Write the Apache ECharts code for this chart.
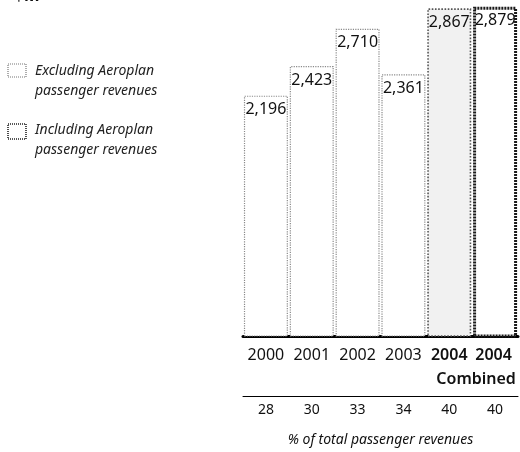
<!DOCTYPE html>
<html>
<head>
<meta charset="utf-8">
<script src="https://cdn.jsdelivr.net/npm/echarts@6/dist/echarts.min.js"></script>
<style>
html,body{margin:0;padding:0;background:#fff;}
#c{width:520px;height:452px;}
</style>
</head>
<body>
<div id="c"></div>
<script>
var years = ['2000', '2001', '2002', '2003', '2004', '2004 Combined'];
var revenues = [2196, 2423, 2710, 2361, 2867, 2879];
var pctOfTotal = ['28', '30', '33', '34', '40', '40'];
var legendLabels = ['Excluding Aeroplan\npassenger revenues', 'Including Aeroplan\npassenger revenues'];
var unitTitle = '$M';
var pctAxisTitle = '% of total passenger revenues';

var FONT = 'Noto Sans';
var styles = [
  {color: '#ffffff', borderColor: '#8a8a8a', borderWidth: 1.2, borderType: 'dotted'},
  {color: '#ffffff', borderColor: '#8a8a8a', borderWidth: 1.2, borderType: 'dotted'},
  {color: '#ffffff', borderColor: '#8a8a8a', borderWidth: 1.2, borderType: 'dotted'},
  {color: '#ffffff', borderColor: '#8a8a8a', borderWidth: 1.2, borderType: 'dotted'},
  {color: '#f1f1f1', borderColor: '#555555', borderWidth: 1.6, borderType: 'dotted'},
  {color: '#ffffff', borderColor: '#1a1a1a', borderWidth: 3, borderType: [2, 1]}
];
var barData = revenues.map(function (v, i) {
  return {value: v, itemStyle: styles[i]};
});

var chart = echarts.init(document.getElementById('c'), null, {renderer: 'canvas'});
chart.setOption({
  animation: false,
  backgroundColor: '#ffffff',
  textStyle: {fontFamily: FONT},
  grid: {left: 243, right: 2, top: 4, bottom: 109},
  xAxis: [{
    type: 'category',
    data: years,
    position: 'bottom',
    axisLine: {show: true, lineStyle: {color: '#000', width: 3}},
    axisTick: {show: false},
    axisLabel: {
      interval: 0,
      margin: 11,
      fontFamily: FONT,
      fontSize: 16,
      color: '#111',
      formatter: function (v, i) {
        if (v.indexOf(' ') > 0) {
          var p = v.split(' ');
          return '{bb|' + p[0] + '}\n{cb|' + p[1] + '}';
        }
        if (i === 4) return '{b|' + v + '}';
        return v;
      },
      rich: {
        b: {fontFamily: FONT, fontSize: 16, fontWeight: 600, color: '#111'},
        bb: {fontFamily: FONT, fontSize: 16, fontWeight: 600, color: '#111', align: 'right', padding: [0, 42, 8, 0]},
        cb: {fontFamily: FONT, fontSize: 16, fontWeight: 600, color: '#111', align: 'right', padding: [0, 38, 0, 0]}
      }
    }
  }, {
    type: 'category',
    data: pctOfTotal,
    position: 'bottom',
    offset: 60,
    axisLine: {show: true, lineStyle: {color: '#000', width: 1}},
    axisTick: {show: false},
    axisLabel: {interval: 0, margin: 7, fontFamily: FONT, fontSize: 14, color: '#111'},
    name: pctAxisTitle,
    nameLocation: 'middle',
    nameGap: 37,
    nameTextStyle: {fontFamily: FONT, fontSize: 14, fontStyle: 'italic', color: '#111'}
  }],
  yAxis: {
    type: 'value',
    min: 350,
    max: 2900,
    show: false
  },
  series: [{
    type: 'bar',
    xAxisIndex: 0,
    data: barData,
    barCategoryGap: '4%',
    label: {
      show: true,
      position: 'insideTop',
      distance: 6,
      fontFamily: FONT,
      fontSize: 16,
      color: '#111',
      formatter: function (p) { return p.value.toLocaleString('en-US'); }
    }
  }],
  graphic: [
    {type: 'text', left: 14, top: -12, style: {text: unitTitle, font: 'bold 17px "Noto Sans"', fill: '#111'}},
    {type: 'rect', shape: {x: 8, y: 64, width: 18, height: 13}, style: {fill: '#fff', stroke: '#777', lineWidth: 1.2, lineDash: [1, 1]}},
    {type: 'text', left: 35, top: 61, style: {text: legendLabels[0], font: 'italic 14px "Noto Sans"', fill: '#222', lineHeight: 20}},
    {type: 'rect', shape: {x: 8, y: 124, width: 18, height: 15}, style: {fill: '#fff', stroke: '#222', lineWidth: 1.6, lineDash: [1, 1]}},
    {type: 'text', left: 35, top: 120, style: {text: legendLabels[1], font: 'italic 14px "Noto Sans"', fill: '#222', lineHeight: 20}}
  ]
});
</script>
</body>
</html>
